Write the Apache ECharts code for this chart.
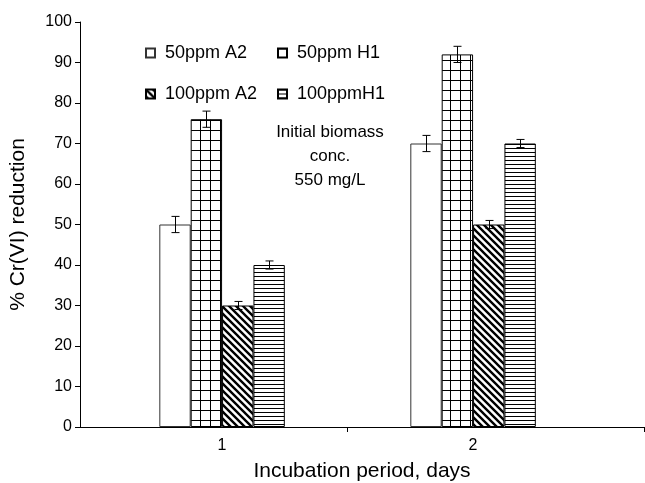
<!DOCTYPE html>
<html>
<head>
<meta charset="utf-8">
<script src="https://cdn.jsdelivr.net/npm/echarts@6/dist/echarts.min.js"></script>
<style>html,body{margin:0;padding:0;background:#fff;}#c{width:645px;height:483px;}</style>
</head>
<body>
<div id="c"></div>
<script>
// ---- data ----
var days = [1, 2];
var seriesNames = ['50ppm A2', '50ppm H1', '100ppm A2', '100ppmH1'];
var a2_50 = [50, 70];
var h1_50 = [76, 92];
var a2_100 = [30, 50];
var h1_100 = [40, 70];
var errA2_50 = [2, 2];
var errH1_50 = [2, 2];
var errA2_100 = [1, 1];
var errH1_100 = [1, 1];
var yTicks = [0, 10, 20, 30, 40, 50, 60, 70, 80, 90, 100];
var noteLines = ['Initial biomass', 'conc.', '550 mg/L'];

var FONT = '"Liberation Sans", Arial, Helvetica, sans-serif';

// ---- patterns ----
function makeTile(w, h, draw) {
  var c = document.createElement('canvas');
  c.width = w; c.height = h;
  var ctx = c.getContext('2d');
  ctx.fillStyle = '#fff';
  ctx.fillRect(0, 0, w, h);
  ctx.strokeStyle = '#000';
  draw(ctx, w, h);
  return {image: c, repeat: 'repeat'};
}
var patWhite = '#ffffff';
var patGrid = makeTile(10, 10, function (ctx) {
  ctx.lineWidth = 1;
  ctx.beginPath();
  ctx.moveTo(0.5, 0); ctx.lineTo(0.5, 10);
  ctx.moveTo(0, 0.5); ctx.lineTo(10, 0.5);
  ctx.stroke();
});
var patDiag = makeTile(7, 7, function (ctx) {
  ctx.lineWidth = 2.4;
  ctx.beginPath();
  for (var k = -1; k <= 1; k++) {
    ctx.moveTo(k * 7 - 1, -1); ctx.lineTo(k * 7 + 8, 8);
  }
  ctx.stroke();
});
var patHoriz = makeTile(4, 4, function (ctx) {
  ctx.lineWidth = 1;
  ctx.beginPath();
  ctx.moveTo(0, 0.5); ctx.lineTo(4, 0.5);
  ctx.stroke();
});
var fills = [patWhite, patGrid, patDiag, patHoriz];
var values = [a2_50, h1_50, a2_100, h1_100];
var errs = [errA2_50, errH1_50, errA2_100, errH1_100];

var xMin = 0.434, xMax = 2.681;

var series = [];
values.forEach(function (vals, i) {
  series.push({
    type: 'bar',
    name: seriesNames[i],
    data: days.map(function (d, j) { return [d, vals[j]]; }),
    barGap: '0%',
    barCategoryGap: '50%',
    itemStyle: {color: fills[i], borderColor: i === 0 ? '#333' : '#000', borderWidth: 1},
    emphasis: {disabled: true},
    silent: true,
    z: 2
  });
});

var errData = [];
values.forEach(function (vals, i) {
  days.forEach(function (d, j) {
    errData.push([d, vals[j] - errs[i][j], vals[j] + errs[i][j], i]);
  });
});
series.push({
  type: 'custom',
  name: 'err',
  data: errData,
  silent: true,
  z: 5,
  renderItem: function (params, api) {
    var x = api.value(0), lo = api.value(1), hi = api.value(2), idx = api.value(3);
    var band = api.size([1, 0])[0];
    var bw = band * 0.125;
    var off = (idx - 1.5) * bw;
    var pLo = api.coord([x, lo]);
    var pHi = api.coord([x, hi]);
    var cx = Math.round(pLo[0] + off) + 0.5;
    var cap = 4;
    var st = {stroke: '#000', lineWidth: 1, fill: null};
    return {
      type: 'group',
      children: [
        {type: 'line', shape: {x1: cx, y1: pLo[1], x2: cx, y2: pHi[1]}, style: st},
        {type: 'line', shape: {x1: cx - cap, y1: pLo[1], x2: cx + cap, y2: pLo[1]}, style: st},
        {type: 'line', shape: {x1: cx - cap, y1: pHi[1], x2: cx + cap, y2: pHi[1]}, style: st}
      ]
    };
  }
});

var legendText = {fontFamily: FONT, fontSize: 18, color: '#000', lineHeight: 20};
function legFmt(name) { return ' ' + name; }
var chart = echarts.init(document.getElementById('c'), null, {renderer: 'canvas'});
chart.setOption({
  animation: false,
  backgroundColor: '#fff',
  grid: {left: 80, right: 1, top: 22, bottom: 56, containLabel: false, outerBoundsMode: 'none'},
  legend: [
    {data: [seriesNames[0], seriesNames[2]], orient: 'vertical', left: 140, top: 38, itemGap: 21,
     itemWidth: 9, itemHeight: 9, icon: 'rect', textStyle: legendText, selectedMode: false, formatter: legFmt},
    {data: [seriesNames[1], seriesNames[3]], orient: 'vertical', left: 272, top: 38, itemGap: 21,
     itemWidth: 9, itemHeight: 9, icon: 'rect', textStyle: legendText, selectedMode: false, formatter: legFmt}
  ],
  xAxis: {
    type: 'value',
    min: xMin, max: xMax,
    name: 'Incubation period, days',
    nameLocation: 'middle',
    nameGap: 34,
    nameTextStyle: {fontFamily: FONT, fontSize: 21, color: '#000'},
    axisLine: {show: true, lineStyle: {color: '#000', width: 1}},
    axisTick: {show: true, inside: false, length: 5, lineStyle: {color: '#000'}, customValues: [1.5, xMax]},
    axisLabel: {show: true, customValues: days, fontFamily: FONT, fontSize: 16, color: '#000', margin: 11},
    splitLine: {show: false}
  },
  yAxis: {
    type: 'value',
    min: 0, max: 100, interval: 10,
    name: '% Cr(VI) reduction',
    nameLocation: 'middle',
    nameRotate: 90,
    nameGap: 51,
    nameTextStyle: {fontFamily: FONT, fontSize: 21, color: '#000'},
    axisLine: {show: true, lineStyle: {color: '#000', width: 1}},
    axisTick: {show: true, inside: false, length: 5, lineStyle: {color: '#000'}},
    axisLabel: {fontFamily: FONT, fontSize: 16, color: '#000', margin: 8,
      formatter: function (v) { return yTicks.indexOf(v) >= 0 ? String(v) : ''; }},
    splitLine: {show: false}
  },
  graphic: [{
    type: 'text',
    x: 330, y: 120,
    style: {text: noteLines.join('\n'), fontFamily: FONT, fontSize: 17, lineHeight: 24,
      fill: '#000', align: 'center', verticalAlign: 'top'}
  }],
  series: series
});
</script>
</body>
</html>
